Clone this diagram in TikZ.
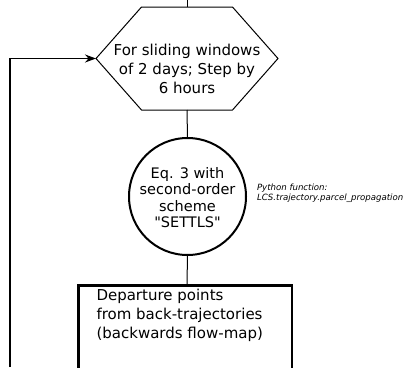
\documentclass[tikz,border=0pt]{standalone}
\usepackage{fontspec}
\setmainfont[Ligatures=TeXOff]{DejaVu Sans}
\usetikzlibrary{arrows.meta}
\begin{document}
\begin{tikzpicture}[x=1pt,y=-1pt,
  every node/.style={inner sep=0pt, outer sep=0pt},
  main/.style={font=\fontsize{15}{19}\selectfont, align=center},
  note/.style={font=\fontsize{8.6}{9.5}\selectfont\itshape, align=left, anchor=west},
  conn/.style={line width=1pt},
  loop/.style={line width=1.5pt}]
\useasboundingbox (0,0) rectangle (406,367);
% hexagon
\draw[line width=1pt] (96,58.5) -- (141.5,7) -- (232.5,7) -- (278,58.5) -- (232.5,110) -- (141.5,110) -- cycle;
\coordinate (hexT) at (187,7);
\coordinate (hexB) at (187,110);
\coordinate (hexL) at (96,58.5);
\coordinate (topin) at (187,0);
\node[main] (hex) at (187,68.5) {For sliding windows\\of 2 days; Step by\\6 hours};
% circle
\node[draw, circle, line width=2pt, minimum size=117pt] (eq) at (187.5,196.5) {};
\node[main, font=\fontsize{14.5}{16.5}\selectfont] (eqt) at (187.5,197.5) {Eq. 3 with\\second-order\\scheme\\"SETTLS"};
\node[note] (py) at (257,193) {Python function:\\LCS.trajectory.parcel\_propagation};
% rectangle
\draw[line width=2.5pt] (78.25,400) -- (78.25,285.25) coordinate (rtl) -- (291.75,285.25) -- (291.75,400);
\coordinate (rectT) at (187,284);
\node[main, align=left, anchor=north west] (dep) at (96.5,289) {Departure points\\from back-trajectories\\(backwards flow-map)};
% connectors
\draw[conn] (topin) -- (hexT);
\draw[conn] (hexB) -- (eq.north);
\draw[conn] (eq.south) -- (rectT);
\coordinate (loopS) at (10,367);
\coordinate (loopC) at (10,58.5);
\draw[loop, -{Stealth[length=11pt,width=8pt]}] (loopS) -- (loopC) -- (hexL);
\end{tikzpicture}
\end{document}
